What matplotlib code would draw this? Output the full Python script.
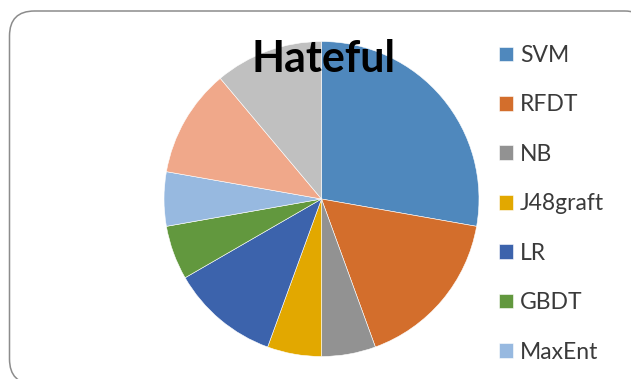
import matplotlib.pyplot as plt
from matplotlib.patches import FancyBboxPatch

# Hateful class: share of each classifier
labels = ['SVM', 'RFDT', 'NB', 'J48graft', 'LR', 'GBDT', 'MaxEnt']
values = [5, 3, 1, 1, 2, 1, 1, 2, 2]
colors = ['#4F88BD', '#D36E2C', '#929292', '#E2A800', '#3C63AC',
          '#62983E', '#97B9E0', '#F0A88A', '#C0C0C0']

W, H = 631, 379
fig = plt.figure(figsize=(W / 100, H / 100), dpi=100)
plt.rcParams['font.family'] = ['Lato', 'DejaVu Sans']

# chart area frame with rounded corners
frame = FancyBboxPatch((0.095 + 0.25, -0.05 + 0.25), 6.40 - 0.5, 3.73 - 0.5,
                       boxstyle='round,pad=0.25', transform=fig.dpi_scale_trans,
                       facecolor='white', edgecolor='#8C8C8C', linewidth=1.1,
                       zorder=-1)
fig.patches.append(frame)

cx, cy, r = 321.5, 199, 157.5
ax = fig.add_axes([(cx - r) / W, (H - cy - r) / H, 2 * r / W, 2 * r / H])
wedges, _ = ax.pie(values, colors=colors, startangle=90, counterclock=False,
                   radius=1, wedgeprops=dict(edgecolor='white', linewidth=0.4))
ax.set_xlim(-1, 1)
ax.set_ylim(-1, 1)
ax.set_aspect('equal')
ax.axis('off')

fig.text(324 / W, 1 - 72 / H, 'Hateful', ha='center', va='baseline',
         fontsize=31, fontweight='bold', color='black', zorder=5)

leg = fig.legend(wedges[:len(labels)], labels, loc='upper left',
                 bbox_to_anchor=(499 / W, 1 - 45 / H), frameon=False,
                 fontsize=16.5, handlelength=0.61, handleheight=0.61,
                 handletextpad=0.3, labelspacing=1.24, borderaxespad=0,
                 borderpad=0)
for t in leg.get_texts():
    t.set_color('#3A3A3A')

fig.savefig('out.png', dpi=100)
